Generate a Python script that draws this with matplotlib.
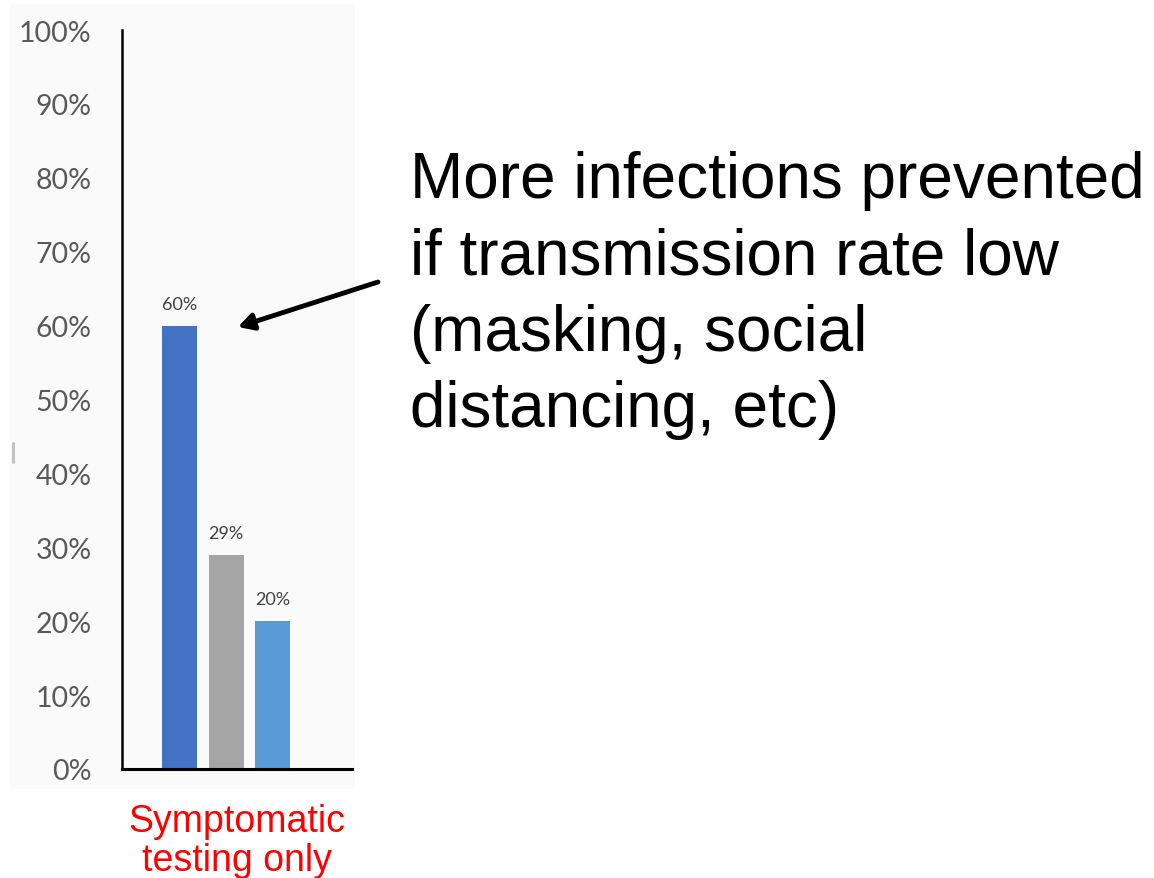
import matplotlib
matplotlib.use("Agg")
import matplotlib.pyplot as plt
from matplotlib.patches import FancyArrowPatch
from matplotlib.lines import Line2D

# Share of infections prevented, symptomatic-testing scenario
bar_values = [0.60, 0.29, 0.20]
bar_labels = ["60%", "29%", "20%"]
bar_colors = ["#4472C4", "#A5A5A5", "#5B9BD5"]
y_ticks = [0.0, 0.1, 0.2, 0.3, 0.4, 0.5, 0.6, 0.7, 0.8, 0.9, 1.0]
y_tick_labels = ["0%", "10%", "20%", "30%", "40%", "50%", "60%", "70%", "80%", "90%", "100%"]
category_label = "Symptomatic\ntesting only"
callout = "More infections prevented\nif transmission rate low\n(masking, social\ndistancing, etc)"

W, H = 1154, 879
fig = plt.figure(figsize=(W / 100, H / 100), dpi=100)
fig.patch.set_facecolor("white")

# faint panel behind the chart
bg = fig.add_axes([10 / W, 1 - 790 / H, 345 / W, 785 / H], zorder=-1)
bg.set_facecolor("#FAFAFA")
bg.set_xticks([])
bg.set_yticks([])
for s in bg.spines.values():
    s.set_visible(False)

# small grey edge mark at the panel's left border
fig.add_artist(Line2D([13 / W, 13 / W], [1 - 444 / H, 1 - 463 / H],
                      transform=fig.transFigure, color="#C4C4C4", lw=2.2,
                      solid_capstyle="round"))

ax = fig.add_axes([122 / W, 1 - 770 / H, 230 / W, 739 / H])
ax.set_facecolor("none")

positions = list(range(len(bar_values)))
ax.bar(positions, bar_values, width=0.75, color=bar_colors, zorder=2)
for x, v, lab in zip(positions, bar_values, bar_labels):
    ax.text(x, v + 0.023, lab, ha="center", va="baseline", fontsize=13,
            family="Lato", color="#404040")

ax.set_xlim(-1.24, 3.71)
ax.set_ylim(0, 1.0)
ax.set_yticks(y_ticks)
ax.set_yticklabels(y_tick_labels, family="Lato", fontsize=20.5, color="#595959")
ax.tick_params(axis="y", length=0, pad=22)
ax.set_xticks([])
for side in ("top", "right"):
    ax.spines[side].set_visible(False)
ax.spines["left"].set_linewidth(1.8)
ax.spines["bottom"].set_linewidth(2.2)
ax.spines["left"].set_color("black")
ax.spines["bottom"].set_color("black")

fig.text(237 / W, 1 - 804 / H, category_label, ha="center", va="top",
         family="Liberation Sans", fontsize=27, color="#FF0000", linespacing=1.1)

fig.text(410 / W, 1 - 151 / H, callout, ha="left", va="top",
         family="Liberation Sans", fontsize=46, color="black", linespacing=1.35)

# arrow toward the tallest bar
arrow = FancyArrowPatch((378 / W, 1 - 283 / H), (238 / W, 1 - 328 / H),
                        transform=fig.transFigure,
                        arrowstyle="-|>,head_length=9,head_width=5",
                        color="black", lw=3.5, shrinkA=0, shrinkB=0)
fig.add_artist(arrow)

fig.savefig("out.png", dpi=100)
